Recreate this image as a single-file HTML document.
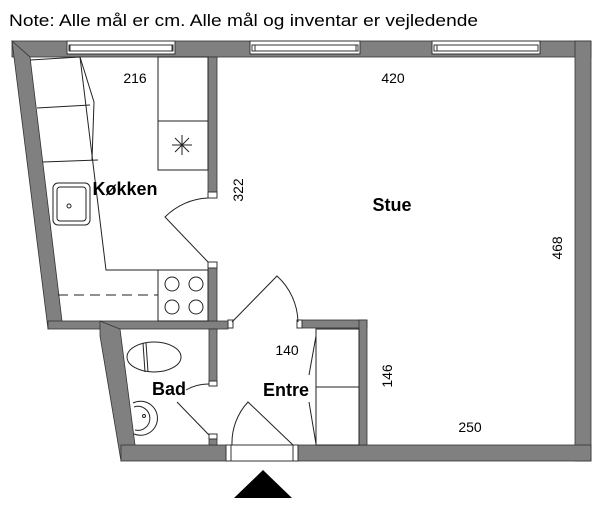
<!DOCTYPE html>
<html><head><meta charset="utf-8"><style>
html,body{margin:0;padding:0;background:#fff;}
svg{display:block;}
text{font-family:"Liberation Sans",sans-serif;fill:#000;}
</style></head><body>
<svg width="600" height="506" viewBox="0 0 600 506" xmlns="http://www.w3.org/2000/svg">
<text x="9" y="26" font-size="17" textLength="469" lengthAdjust="spacingAndGlyphs">Note: Alle mål er cm. Alle mål og inventar er vejledende</text>
<g fill="#808080" stroke="#333" stroke-width="0.8">
<!-- top wall -->
<rect x="12" y="41" width="579" height="16"/>
<!-- right wall -->
<rect x="575" y="41" width="16" height="420"/>
<!-- left slanted wall -->
<polygon points="12,41 30,57 62,321 48,329"/>
<!-- kitchen bottom wall -->
<rect x="48" y="321" width="180" height="8"/>
<polygon points="100,321 120,329 135,445 121,461 100,336"/>
<!-- bottom walls -->
<rect x="121" y="445" width="105" height="16"/>
<rect x="298" y="445" width="293" height="16"/>
<!-- interior vertical kitchen/stue -->
<rect x="208" y="57" width="9" height="137"/>
<rect x="208" y="262" width="9" height="59"/>
<!-- hall wall right -->
<rect x="302" y="320" width="65" height="8"/>
<rect x="359" y="320" width="8" height="125"/>
<!-- bath/entre wall -->
<rect x="209" y="329" width="8" height="54"/>
<rect x="209" y="438" width="8" height="7"/>
</g>
<!-- windows -->
<g fill="#fff" stroke="#333" stroke-width="1">
<rect x="67" y="41" width="108" height="13"/><rect x="69" y="45" width="104" height="6"/><line x1="70" y1="45" x2="70" y2="51"/><line x1="172" y1="45" x2="172" y2="51"/>
<rect x="250" y="41" width="110" height="13"/><rect x="252" y="45" width="106" height="6"/><line x1="255" y1="45" x2="255" y2="51"/><line x1="356" y1="45" x2="356" y2="51"/>
<rect x="432" y="41" width="108" height="13"/><rect x="434" y="45" width="104" height="6"/><line x1="437" y1="45" x2="437" y2="51"/><line x1="538" y1="45" x2="538" y2="51"/>
<!-- door caps -->
<rect x="208" y="192" width="9" height="6"/><rect x="208" y="262" width="9" height="6"/>
<rect x="228" y="320" width="5" height="8"/><rect x="297" y="320" width="5" height="8"/>
<rect x="209" y="381" width="8" height="5"/><rect x="209" y="434" width="8" height="5"/>
<!-- front door frame -->
<rect x="226" y="445" width="72" height="16"/><line x1="231" y1="445" x2="231" y2="461"/><line x1="293" y1="445" x2="293" y2="461"/>
</g>
<g fill="none" stroke="#222" stroke-width="1">
<!-- kitchen door -->
<path d="M208,198 A64,64 0 0 0 165,217 L208,262"/>
<!-- hall door -->
<path d="M232,322 L277,276 A64,64 0 0 1 298,322"/>
<!-- bath door -->
<path d="M209,384 A45,45 0 0 0 186,390"/><line x1="209" y1="435" x2="177" y2="402"/>
<!-- front door -->
<path d="M232,445 A60,60 0 0 1 248,402 L293,445"/>
<!-- kitchen counter -->
<polyline points="30,60 80,57 106,270 160,270"/>
<line x1="37" y1="108" x2="90" y2="105"/><line x1="43" y1="162" x2="98" y2="160"/>
<line x1="80" y1="57" x2="94" y2="102"/><line x1="94" y1="102" x2="92" y2="160"/>
<rect x="53" y="183" width="37" height="42" rx="5"/><rect x="57" y="187" width="29" height="34" rx="3"/>
<circle cx="69" cy="206" r="2"/>
<line x1="58" y1="295" x2="158" y2="295" stroke-dasharray="10,6"/>
<rect x="158" y="270" width="50" height="51"/>
<circle cx="172" cy="284" r="7"/><circle cx="196" cy="284" r="7"/><circle cx="172" cy="307" r="7"/><circle cx="196" cy="307" r="7"/>
<rect x="158" y="57" width="50" height="113"/><line x1="158" y1="121" x2="208" y2="121"/>
<line x1="172" y1="145" x2="192" y2="145"/><line x1="182" y1="135" x2="182" y2="155"/><line x1="175" y1="138" x2="189" y2="152"/><line x1="189" y1="138" x2="175" y2="152"/>
<!-- entre closet -->
<rect x="316" y="329" width="43" height="116"/><line x1="316" y1="387" x2="359" y2="387"/>
<line x1="316" y1="336" x2="309" y2="375"/><line x1="309" y1="402" x2="316" y2="444"/>
<!-- toilet -->
<ellipse cx="154" cy="357" rx="27" ry="15"/><line x1="143" y1="343" x2="145" y2="372"/><line x1="146" y1="343" x2="148" y2="372"/>
<!-- bath sink -->
<path d="M133,403 A17,17 0 1 1 134,434"/><path d="M134,407 A12,12 0 1 1 135,430"/><circle cx="144" cy="416" r="1.5"/>
</g>
<polygon points="234,498 292,498 263,470" fill="#000"/>
<g font-size="14">
<text x="135" y="83" text-anchor="middle">216</text>
<text x="393" y="83" text-anchor="middle">420</text>
<text x="287" y="355" text-anchor="middle">140</text>
<text x="470" y="432" text-anchor="middle">250</text>
<text transform="translate(243,190) rotate(-90)" text-anchor="middle">322</text>
<text transform="translate(562,248) rotate(-90)" text-anchor="middle">468</text>
<text transform="translate(392,376) rotate(-90)" text-anchor="middle">146</text>
</g>
<g font-size="18" font-weight="bold">
<text x="125" y="195" text-anchor="middle">Køkken</text>
<text x="392" y="211" text-anchor="middle">Stue</text>
<text x="169" y="395" text-anchor="middle">Bad</text>
<text x="286" y="396" text-anchor="middle">Entre</text>
</g>
</svg>
</body></html>
